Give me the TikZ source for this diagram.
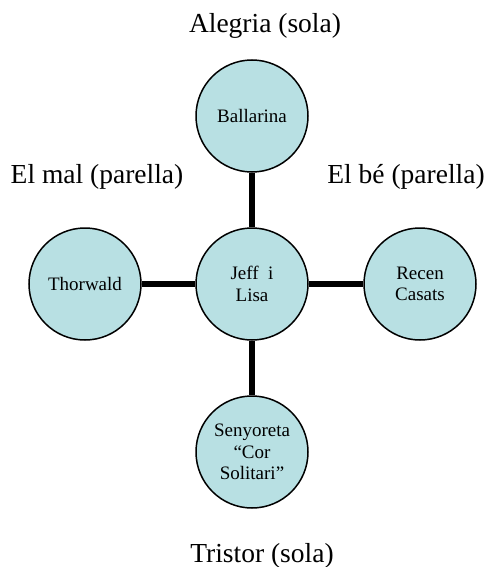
\documentclass[tikz,border=0pt]{standalone}
\usepackage{fontspec}
\setmainfont{Liberation Serif}
\usepackage{tikz}
\definecolor{bolablava}{RGB}{184,224,227}

\begin{document}
\begin{tikzpicture}[x=1pt, y=-1pt,
	            every circle node/.style={
	            draw,
	            line width=1.5pt,
	            fill=bolablava,
	            align = center,
	            inner sep=0pt,
	            minimum size=112pt,
	            font=\fontsize{19}{21.5}\selectfont,
	            },
	            etiqueta/.style={
	            font=\fontsize{27.5}{30}\selectfont,
	            inner sep=0pt
	            },
	            every path/.style={
                    line width=5.5pt
                }]

	        \useasboundingbox (0,0) rectangle (488,567);

	        \node[circle] (jeff) at (252,284) {Jeff~ i\\Lisa};
	        \node[circle] (ballarina) at (252,116) {Ballarina};
	        \node[circle] (thorwald) at (85,284) {Thorwald};
	        \node[circle] (recen) at (420,284) {Recen\\Casats};
	        \node[circle] (senyoreta) at (252,452) {Senyoreta\\“Cor\\Solitari”};

	        \draw (jeff) -- (ballarina);
	        \draw (jeff) -- (thorwald);
	        \draw (jeff) -- (recen);
	        \draw (jeff) -- (senyoreta);

	        \node[etiqueta, anchor=base] (alegria) at (265,33) {Alegria (sola)};
	        \node[etiqueta, anchor=base] (mal) at (97,183) {El mal (parella)};
	        \node[etiqueta, anchor=base] (be) at (406,183) {El bé (parella)};
	        \node[etiqueta, anchor=base] (tristor) at (262,562) {Tristor (sola)};

	    \end{tikzpicture}
\end{document}
